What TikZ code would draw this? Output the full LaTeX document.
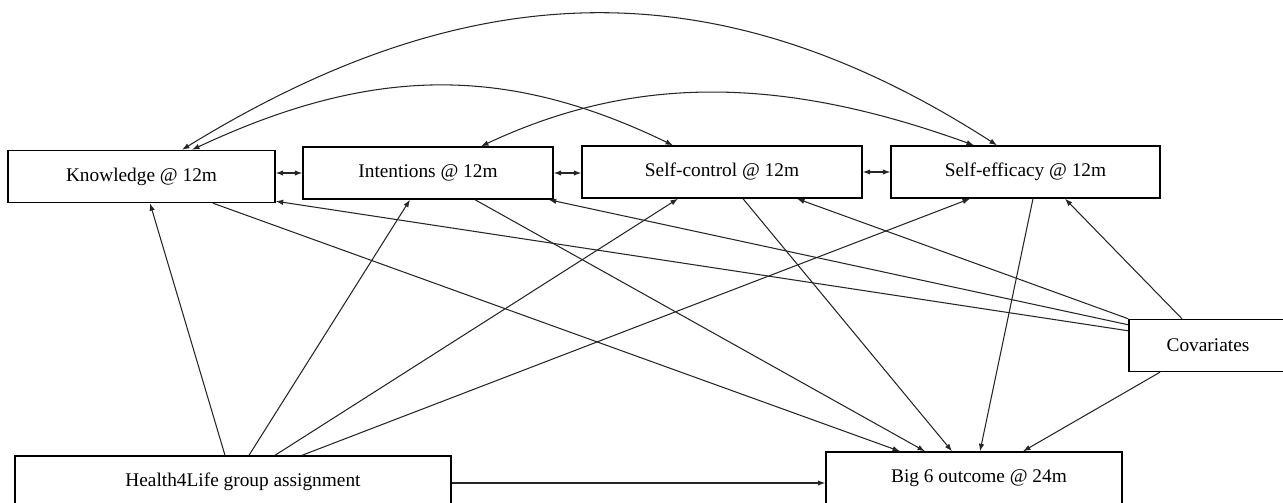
\documentclass[tikz,border=0pt]{standalone}
\usepackage{fontspec}
\setmainfont{Liberation Serif}
\usetikzlibrary{arrows.meta}

\begin{document}
\begin{tikzpicture}[x=0.2mm,y=-0.2mm,
box/.style={draw,line width=0.8pt,minimum height=10.4mm,font=\fontsize{11}{13}\selectfont},
arr/.style={-{Latex[length=1.5mm,width=1.1mm]},line width=0.6pt,black!85},
dbl/.style={{Latex[length=1.5mm,width=1.1mm]}-{Latex[length=1.5mm,width=1.1mm]},line width=0.6pt,black!85}]
\useasboundingbox (0,0) rectangle (1283,503);
% mediators at 12m
\node[box,minimum width=53.4mm] (know) at (141.5,176.5) {Knowledge @ 12m};
\node[box,minimum width=50mm] (inten) at (428,173) {Intentions @ 12m};
\node[box,minimum width=56mm] (selfc) at (722,172) {Self-control @ 12m};
\node[box,minimum width=53.8mm] (selfe) at (1025.5,172) {Self-efficacy @ 12m};
\node[box,minimum width=31.6mm] (covar) at (1208,345.5) {Covariates};
\node[box,minimum width=87.2mm,minimum height=10.4mm] (health) at (233,482) {\hspace{4mm}Health4Life group assignment};
\node[box,minimum width=59.2mm] (big6) at (974,478) {\hspace{2mm}Big 6 outcome @ 24m};
% covariances
\draw[dbl] ([xshift=8.1mm]know.north) .. controls (476,-31) and (723,-31) .. ([xshift=-5.7mm]selfe.north);
\draw[dbl] ([xshift=10.1mm]know.north) .. controls (373,65) and (507,65) .. ([xshift=-9.8mm]selfc.north);
\draw[dbl] ([xshift=10.6mm]inten.north) .. controls (633,75) and (780,75) .. ([xshift=-10.3mm]selfe.north);
\draw[dbl] (inten.west -| know.east) -- (inten.west);
\draw[dbl] (inten.east) -- (inten.east -| selfc.west);
\draw[dbl] (selfc.east) -- (selfc.east -| selfe.west);
% group assignment
\draw[arr] ([xshift=-1.6mm]health.north) -- ([xshift=1.7mm]know.south);
\draw[arr] ([xshift=3.2mm]health.north) -- ([xshift=-3.6mm]inten.south);
\draw[arr] ([xshift=8.4mm]health.north) -- ([xshift=-8.8mm]selfc.south);
\draw[arr] ([xshift=13.8mm]health.north) -- ([xshift=-11.1mm]selfe.south);
\draw[arr] ([yshift=-0.2mm]health.east) -- ([yshift=-0.2mm]health.east -| big6.west);
% paths to outcome
\draw[arr] ([xshift=14.3mm]know.south) -- ([xshift=-14.8mm]big6.north);
\draw[arr] ([xshift=9.4mm]inten.south) -- ([xshift=-9.8mm]big6.north);
\draw[arr] ([xshift=4.2mm]selfc.south) -- ([xshift=-4.4mm]big6.north);
\draw[arr] ([xshift=1.5mm]selfe.south) -- ([xshift=1.2mm]big6.north);
\draw[arr] ([xshift=-9.6mm]covar.south) -- ([xshift=9.8mm]big6.north);
% covariates
\draw[arr] ([xshift=-5.2mm]covar.north) -- ([xshift=7.9mm]selfe.south);
\draw[arr] (covar.north west) -- ([xshift=15mm]selfc.south);
\draw[arr] ([yshift=-1.2mm]covar.north west) -- ([xshift=-1mm]inten.south east);
\draw[arr] ([yshift=-2.4mm]covar.north west) -- ([yshift=0.4mm]know.south east);
\end{tikzpicture}
\end{document}
